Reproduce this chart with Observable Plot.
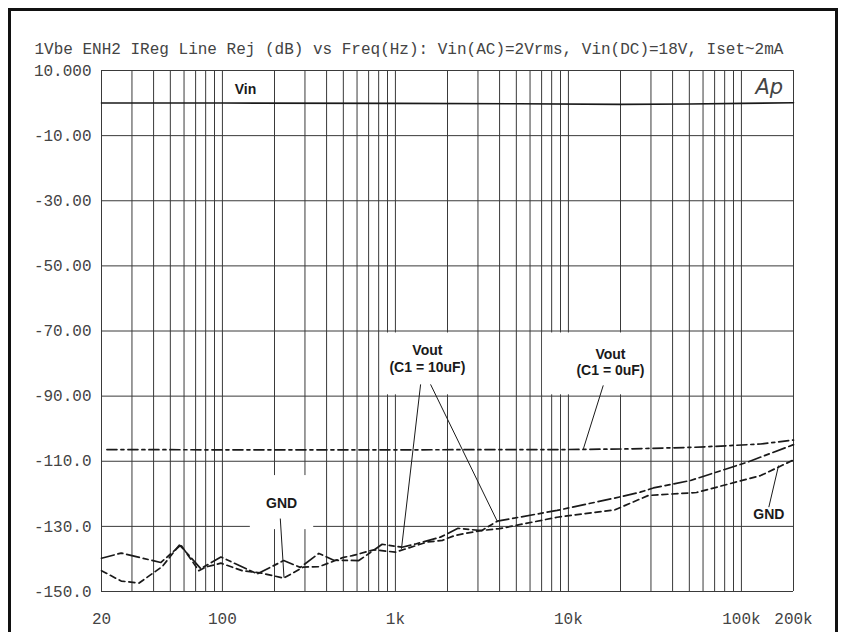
<!DOCTYPE html>
<html><head><meta charset="utf-8">
<script src="https://cdn.jsdelivr.net/npm/d3@7"></script>
<script src="https://cdn.jsdelivr.net/npm/@observablehq/plot@0.6"></script>
<style>
html,body{margin:0;padding:0;background:#fff;}
#wrap{position:relative;width:842px;height:632px;overflow:hidden;background:#fff;}
#border{position:absolute;left:8px;top:8px;width:824px;height:700px;border:3px solid #111;pointer-events:none;}
</style></head><body>
<div id="wrap"><div id="chart"></div><div id="border"></div></div>
<script>
const title = "1Vbe ENH2 IReg Line Rej (dB) vs Freq(Hz): Vin(AC)=2Vrms, Vin(DC)=18V, Iset~2mA";
const xTicks = [20, 100, 1000, 10000, 100000, 200000];
const xTickLabels = ["20", "100", "1k", "10k", "100k", "200k"];
const yTicks = [10, -10, -30, -50, -70, -90, -110, -130, -150];
const yTickLabels = ["10.000", "-10.00", "-30.00", "-50.00", "-70.00", "-90.00", "-110.0", "-130.0", "-150.0"];

// Vin
const vinF  = [20, 100, 1000, 5000, 20000, 50000, 100000, 200000];
const vinDb = [0, 0, -0.1, -0.2, -0.4, -0.3, -0.1, 0.1];
// Vout (C1 = 0uF)
const vout0F  = [21.5, 100, 1000, 5000, 10000, 22800, 54000, 86000, 129000, 200000];
const vout0Db = [-106.4, -106.5, -106.5, -106.4, -106.4, -106.2, -105.7, -105.2, -104.7, -103.5];
// Vout (C1 = 10uF)
const vout10F  = [20, 26, 44, 57, 75, 98, 159, 226, 282, 361, 440, 614, 838, 1090, 1310, 1820, 2300, 3150, 3880, 8600, 18200, 26000, 31000, 50800, 108000, 200000];
const vout10Db = [-139.8, -138.2, -141.1, -135.9, -143.0, -139.4, -144.6, -140.5, -142.6, -138.3, -140.4, -140.5, -135.5, -136.4, -135.4, -133.3, -130.6, -131.3, -128.4, -125.1, -121.4, -119.5, -118.2, -115.9, -110.3, -104.9];
// GND
const gndF  = [20, 26, 33, 45, 57, 73, 80, 98, 130, 170, 226, 294, 361, 502, 563, 750, 1000, 1530, 1870, 2200, 3100, 4000, 8600, 18600, 29000, 55000, 129000, 200000];
const gndDb = [-143.6, -146.8, -147.4, -142.3, -135.4, -143.6, -142.5, -141.3, -143.6, -144.4, -145.9, -142.5, -142.4, -139.5, -139.0, -137.2, -137.9, -134.8, -134.3, -132.8, -131.3, -130.7, -127.2, -124.9, -120.5, -119.6, -114.4, -109.6];

// annotation labels (freq, dB)
const labels = [
  {f: 136, db: 4.5, text: "Vin", size: 14},
  {f: 220, db: -122.8, text: "GND", size: 14},
  {f: 144000, db: -126.1, text: "GND", size: 14},
  {f: 1530, db: -78.3, text: "Vout\n(C1 = 10uF)", size: 14},
  {f: 17500, db: -79.4, text: "Vout\n(C1 = 0uF)", size: 14}
];
const labelBoxes = [
  {f1: 145, f2: 337, db1: -114.4, db2: -131.0},
  {f1: 820, f2: 2860, db1: -70.6, db2: -89.6},
  {f1: 7100, f2: 29500, db1: -70.6, db2: -89.6}
];
const pointers = [
  {f1: 1398, db1: -86.4, f2: 1084, db2: -136.9},
  {f1: 1596, db1: -86.4, f2: 3900, db2: -128.7},
  {f1: 15900, db1: -86.7, f2: 12200, db2: -106.2},
  {f1: 216, db1: -127.6, f2: 227, db2: -145.7},
  {f1: 144000, db1: -124.1, f2: 164000, db2: -111.3}
];

const toRows = (F, D) => F.map((f, i) => ({f, db: D[i]}));
const vin = toRows(vinF, vinDb);
const vout0 = toRows(vout0F, vout0Db);
const vout10 = toRows(vout10F, vout10Db);
const gnd = toRows(gndF, gndDb);

const gridX = d3.scaleLog().domain([20, 200000]).ticks();
const mono = "Liberation Mono";
const curve = {x: "f", y: "db", stroke: "#1a1a1a", strokeWidth: 1.7};

const chart = Plot.plot({
  width: 842, height: 632,
  marginLeft: 101, marginRight: 49, marginTop: 70, marginBottom: 41,
  style: {fontFamily: mono, fontSize: "16px", color: "#444", background: "#fff"},
  x: {type: "log", domain: [20, 200000], ticks: xTicks, tickFormat: d => xTickLabels[xTicks.indexOf(d)], tickSize: 0, tickPadding: 21, label: null},
  y: {domain: [-150, 10], ticks: yTicks, tickFormat: d => yTickLabels[yTicks.indexOf(d)], tickSize: 0, tickPadding: 10, label: null},
  marks: [
    Plot.ruleX(gridX, {stroke: "#3a3a3a", strokeWidth: 1}),
    Plot.ruleY(yTicks, {stroke: "#3a3a3a", strokeWidth: 1}),
    Plot.rect(labelBoxes, {x1: "f1", x2: "f2", y1: "db1", y2: "db2", fill: "white"}),
    Plot.line(vin, {...curve, strokeWidth: 1.6}),
    Plot.line(vout0, {...curve, strokeDasharray: "10,4,3,4"}),
    Plot.line(vout10, {...curve, strokeDasharray: "13,4,5,4"}),
    Plot.line(gnd, {...curve, strokeDasharray: "6,4"}),
    Plot.link(pointers, {x1: "f1", y1: "db1", x2: "f2", y2: "db2", stroke: "#1a1a1a", strokeWidth: 1}),
    Plot.text(labels, {x: "f", y: "db", text: "text", fontSize: "size", fontFamily: "Liberation Sans", fontWeight: "bold", fill: "#1a1a1a", lineHeight: 1.2}),
    Plot.text(["Ap"], {x: 145000, y: 4.8, text: d => d, fontFamily: "DejaVu Sans", fontWeight: 200, fontStyle: "italic", fontSize: 21, fill: "#444"}),
    Plot.text([title], {frameAnchor: "top-left", text: d => d, dx: -67, dy: -28, textAnchor: "start", fontFamily: mono, fontSize: 16, fill: "#444"})
  ]
});
document.getElementById("chart").appendChild(chart);
</script>
</body></html>
